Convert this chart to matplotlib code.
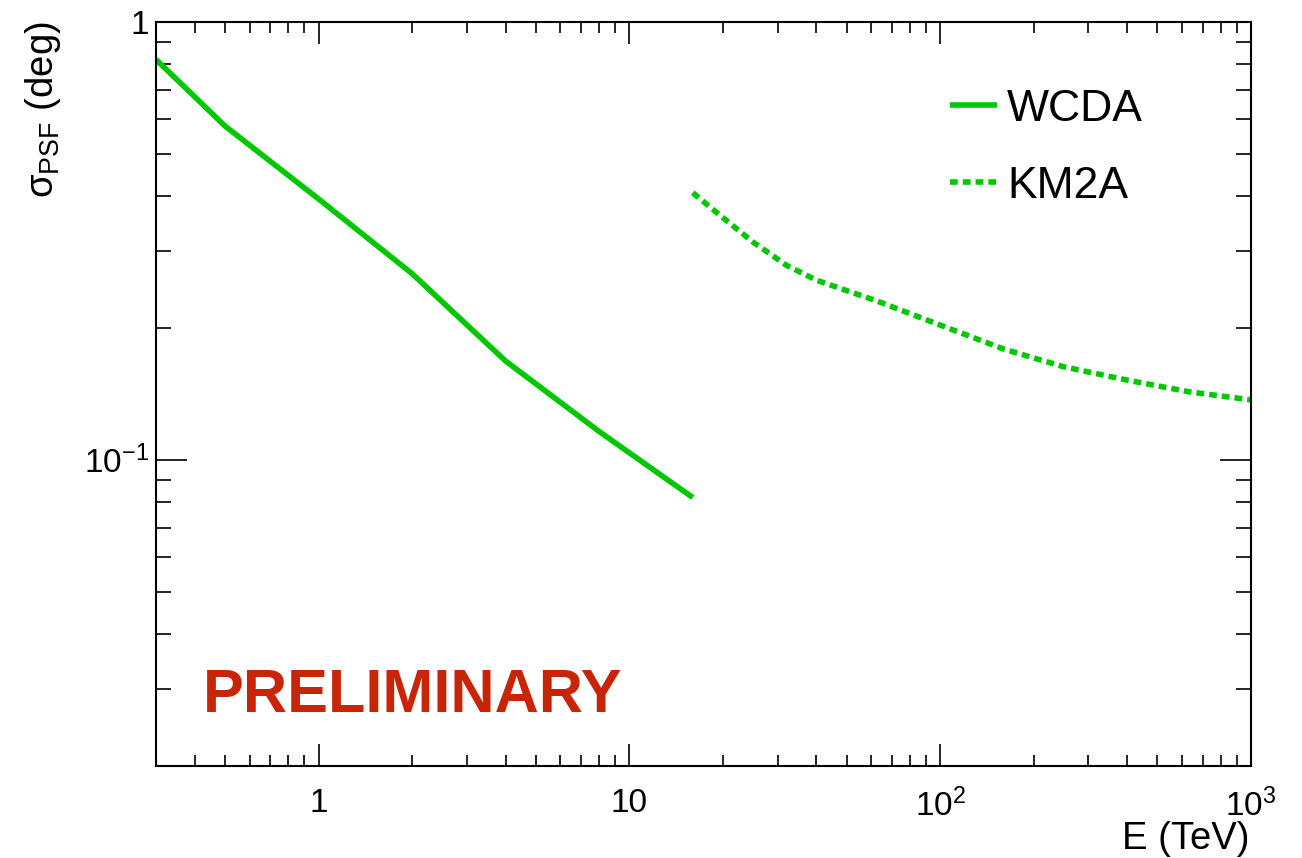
import matplotlib
matplotlib.use("Agg")
import matplotlib.pyplot as plt
from matplotlib.ticker import FixedLocator, FixedFormatter, LogLocator, NullFormatter

plt.rcParams['font.family'] = ['Liberation Sans', 'DejaVu Sans']
plt.rcParams['mathtext.fontset'] = 'custom'
plt.rcParams['mathtext.rm'] = 'Liberation Sans'
plt.rcParams['mathtext.it'] = 'Liberation Sans:italic'
plt.rcParams['mathtext.bf'] = 'Liberation Sans:bold'

# ---- data ----
wcda_E = [0.3, 0.5, 1, 2, 4, 8, 16]
wcda_sigma = [0.82, 0.578, 0.394, 0.266, 0.168, 0.116, 0.082]

km2a_E = [16, 20, 25, 32, 40, 63, 100, 160, 250, 400, 630, 1000]
km2a_sigma = [0.407, 0.357, 0.314, 0.278, 0.257, 0.230, 0.203, 0.179, 0.163, 0.152, 0.143, 0.137]

x_major = [1, 10, 100, 1000]
x_major_labels = ["1", "10", "$10^{2}$", "$10^{3}$"]
y_major = [0.1, 1]
y_major_labels = ["$10^{-1}$", "1"]

green = '#00c800'
red = '#c82506'

fig = plt.figure(figsize=(13.02, 8.58), dpi=100)
ax = fig.add_axes([156/1302, 92/858, (1251-156)/1302, (766-21.7)/858])

ax.plot(wcda_E, wcda_sigma, color=green, lw=4, solid_capstyle='butt', label='WCDA')
ax.plot(km2a_E, km2a_sigma, color=green, lw=4, linestyle=(0, (1.4, 0.9)),
        dash_capstyle='butt', label='KM2A')

ax.set_xscale('log')
ax.set_yscale('log')
ax.set_xlim(0.3, 1000)
ax.set_ylim(0.02, 1)

ax.xaxis.set_major_locator(FixedLocator(x_major))
ax.xaxis.set_major_formatter(FixedFormatter(x_major_labels))
ax.xaxis.set_minor_locator(LogLocator(base=10, subs=range(2, 10)))
ax.xaxis.set_minor_formatter(NullFormatter())
ax.yaxis.set_major_locator(FixedLocator(y_major))
ax.yaxis.set_major_formatter(FixedFormatter(y_major_labels))
ax.yaxis.set_minor_locator(LogLocator(base=10, subs=range(2, 10)))
ax.yaxis.set_minor_formatter(NullFormatter())

for s in ax.spines.values():
    s.set_linewidth(1.5)

ax.tick_params(axis='x', which='both', direction='in', top=True, bottom=True, width=1.2)
ax.tick_params(axis='x', which='major', length=16, labelsize=24, pad=16)
ax.tick_params(axis='x', which='minor', length=8)
ax.tick_params(axis='y', which='both', direction='in', left=True, right=True, width=1.2)
ax.tick_params(axis='y', which='major', length=22, labelsize=24, pad=5)
ax.tick_params(axis='y', which='minor', length=11)

fig.text(1250/1302, 1 - 839/858, 'E (TeV)', ha='right', va='center', fontsize=27.5)
fig.text(43/1302, 1 - 21/858, r'$\mathregular{σ_{PSF}}$ (deg)', ha='center', va='top',
         rotation=90, fontsize=27.5)

ax.text(0.043, 0.094, 'PRELIMINARY', transform=ax.transAxes, color=red,
        fontsize=44, fontweight='bold', ha='left', va='center')

ax.legend(loc='upper left', bbox_to_anchor=(950/1302, 1 - 89/858),
          bbox_transform=fig.transFigure, frameon=False, fontsize=32,
          handlelength=1.06, handletextpad=0.22, labelspacing=0.8,
          borderpad=0, borderaxespad=0)

fig.savefig('out.png', dpi=100)
